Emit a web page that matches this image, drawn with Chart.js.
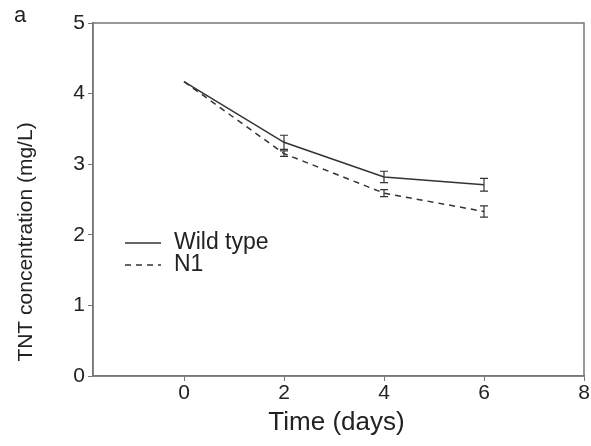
<!DOCTYPE html>
<html>
<head>
<meta charset="utf-8">
<script src="https://cdn.jsdelivr.net/npm/chart.js@4"></script>
<style>
  html, body { margin: 0; padding: 0; background: #fff; }
  #wrap { width: 591px; height: 446px; }
</style>
</head>
<body>
<div id="wrap"><canvas id="tntChart" width="591" height="446"></canvas></div>
<script>
// values
var days = [0, 2, 4, 6];
var wildType = [4.17, 3.31, 2.82, 2.71];
var wildTypeErr = [0.01, 0.10, 0.08, 0.09];
var n1 = [4.17, 3.15, 2.59, 2.33];
var n1Err = [0.01, 0.04, 0.05, 0.08];
var xTicks = [0, 2, 4, 6, 8];
var yTicks = [0, 1, 2, 3, 4, 5];

var font = '"Liberation Sans", Arial, sans-serif';
var ink = '#333';
var frame = '#777';
var text = '#222';

function points(ys) {
    return days.map(function (d, i) { return { x: d, y: ys[i] }; });
}

// error bars, titles, legend, frame and panel letter
var extras = {
    id: 'extras',
    afterDatasetsDraw: function (chart) {
        var ctx = chart.ctx;
        var xs = chart.scales.x, ys = chart.scales.y;
        var area = chart.chartArea;
        ctx.save();
        ctx.strokeStyle = ink;
        ctx.lineWidth = 1.2;
        [[wildType, wildTypeErr], [n1, n1Err]].forEach(function (s) {
            days.forEach(function (d, i) {
                if (s[1][i] < 0.02) return;
                var px = xs.getPixelForValue(d);
                var top = ys.getPixelForValue(s[0][i] + s[1][i]);
                var bot = ys.getPixelForValue(s[0][i] - s[1][i]);
                ctx.beginPath();
                ctx.moveTo(px, top); ctx.lineTo(px, bot);
                ctx.moveTo(px - 4, top); ctx.lineTo(px + 4, top);
                ctx.moveTo(px - 4, bot); ctx.lineTo(px + 4, bot);
                ctx.stroke();
            });
        });

        // box frame
        ctx.strokeStyle = frame;
        ctx.lineWidth = 1.5;
        ctx.strokeRect(area.left, area.top, area.right - area.left, area.bottom - area.top);

        // legend
        var lx = area.left + 32, ly = 243;
        ctx.strokeStyle = ink;
        ctx.lineWidth = 1.5;
        ctx.beginPath(); ctx.moveTo(lx, ly); ctx.lineTo(lx + 36, ly); ctx.stroke();
        ctx.setLineDash([6, 5]);
        ctx.beginPath(); ctx.moveTo(lx, ly + 22); ctx.lineTo(lx + 36, ly + 22); ctx.stroke();
        ctx.setLineDash([]);
        ctx.fillStyle = text;
        ctx.font = '23px ' + font;
        ctx.textBaseline = 'middle';
        ctx.textAlign = 'left';
        ctx.fillText('Wild type', lx + 49, ly);
        ctx.fillText('N1', lx + 49, ly + 22);

        // panel letter
        ctx.textAlign = 'center';
        ctx.font = '22px ' + font;
        ctx.fillText('a', 20, 16);

        // axis titles
        ctx.font = '26px ' + font;
        ctx.fillText('Time (days)', (area.left + area.right) / 2 - 2, 423);
        ctx.translate(26, 242);
        ctx.rotate(-Math.PI / 2);
        ctx.font = '21px ' + font;
        ctx.fillText('TNT concentration (mg/L)', 0, 0);
        ctx.restore();
    }
};

new Chart(document.getElementById('tntChart'), {
    type: 'line',
    data: {
        datasets: [{
            label: 'Wild type',
            data: points(wildType),
            borderColor: ink,
            borderWidth: 1.5,
            pointRadius: 0,
            tension: 0
        }, {
            label: 'N1',
            data: points(n1),
            borderColor: ink,
            borderWidth: 1.5,
            borderDash: [6, 5],
            pointRadius: 0,
            tension: 0
        }]
    },
    options: {
        responsive: false,
        animation: false,
        layout: { padding: { top: 23, right: 7, left: 0, bottom: 0 } },
        plugins: { legend: { display: false }, tooltip: { enabled: false } },
        scales: {
            x: {
                type: 'linear',
                min: -1.82,
                max: 8,
                afterBuildTicks: function (s) { s.ticks = xTicks.map(function (v) { return { value: v }; }); },
                afterFit: function (s) { s.height = 70; },
                grid: { display: true, drawOnChartArea: false, drawTicks: true, tickLength: 5, color: frame },
                border: { display: true, color: frame, width: 1.5 },
                ticks: { color: text, font: { family: font, size: 21 }, padding: 0, maxRotation: 0 }
            },
            y: {
                min: 0,
                max: 5,
                afterBuildTicks: function (s) { s.ticks = yTicks.map(function (v) { return { value: v }; }); },
                afterFit: function (s) { s.width = 93; },
                grid: { display: true, drawOnChartArea: false, drawTicks: true, tickLength: 5, color: frame },
                border: { display: true, color: frame, width: 1.5 },
                ticks: { color: text, font: { family: font, size: 21 }, padding: 3 }
            }
        }
    },
    plugins: [extras]
});
</script>
</body>
</html>
